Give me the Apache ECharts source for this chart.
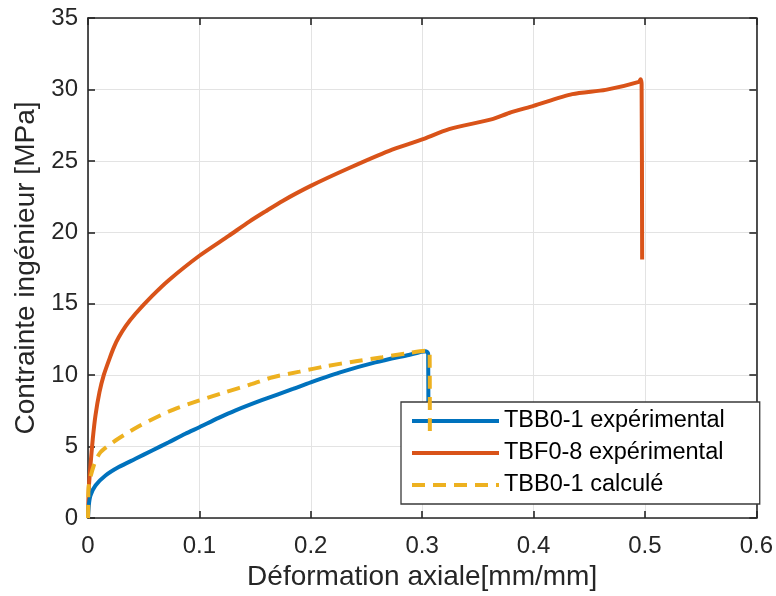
<!DOCTYPE html>
<html><head><meta charset="utf-8">
<script src="https://cdn.jsdelivr.net/npm/echarts@6/dist/echarts.min.js"></script>
<style>html,body{margin:0;padding:0;background:#fff}#c{width:776px;height:596px}</style>
</head><body><div id="c"></div>
<script>
// Data
var blueX = [0, 0.0007, 0.0022, 0.0067, 0.0157, 0.0276, 0.0426, 0.0576, 0.0725, 0.0874, 0.1, 0.1173, 0.132, 0.156, 0.184, 0.2, 0.2285, 0.258, 0.288, 0.3033, 0.3054, 0.3056];
var blueY = [0, 0.9, 1.58, 2.28, 2.98, 3.57, 4.15, 4.73, 5.31, 5.9, 6.36, 7.01, 7.52, 8.25, 9.04, 9.5, 10.25, 10.9, 11.42, 11.68, 11.5, 6.0];
var orangeX = [0, 0.0007, 0.0022, 0.0043, 0.0067, 0.0103, 0.0142, 0.0195, 0.0235, 0.0276, 0.034, 0.0426, 0.0576, 0.0725, 0.1, 0.1263, 0.1448, 0.159, 0.1747, 0.2, 0.2345, 0.2704, 0.2994, 0.3242, 0.363, 0.378, 0.4, 0.4348, 0.4647, 0.4946, 0.4961, 0.497, 0.4975];
var orangeY = [0, 2.05, 3.68, 5.55, 7.18, 8.81, 10.02, 11.2, 12.0, 12.65, 13.45, 14.3, 15.55, 16.65, 18.36, 19.75, 20.75, 21.45, 22.2, 23.25, 24.5, 25.7, 26.48, 27.22, 27.92, 28.35, 28.85, 29.67, 29.97, 30.53, 30.72, 30.4, 18.1];
var yellowX = [0, 0.0002, 0.0007, 0.0052, 0.0112, 0.0247, 0.0456, 0.0725, 0.0994, 0.1233, 0.1473, 0.1658, 0.19, 0.2136, 0.2405, 0.2644, 0.2883, 0.3048, 0.3067, 0.3069];
var yellowY = [0, 1.0, 2.28, 3.68, 4.61, 5.43, 6.43, 7.46, 8.22, 8.81, 9.39, 9.86, 10.25, 10.63, 10.98, 11.26, 11.56, 11.72, 11.6, 6.0];
var seriesNames = ['TBB0-1 expérimental', 'TBF0-8 expérimental', 'TBB0-1 calculé'];
var xTicks = [0, 0.1, 0.2, 0.3, 0.4, 0.5, 0.6];
var yTicks = [0, 5, 10, 15, 20, 25, 30, 35];

function pairs(xs, ys){ return xs.map(function(x,i){ return [x, ys[i]]; }); }
var FONT = '"Liberation Sans", Arial, sans-serif';
var AX = '#262626';
var chart = echarts.init(document.getElementById('c'));
var baseX = {
  type: 'value', min: 0, max: 0.6, interval: 0.1,
  axisLine: {show: true, onZero: false, lineStyle: {color: AX, width: 1.6}},
  axisTick: {show: true, inside: true, length: 7, lineStyle: {color: AX, width: 1.6}},
  splitLine: {show: false}
};
var baseY = {
  type: 'value', min: 0, max: 35, interval: 5,
  axisLine: {show: true, onZero: false, lineStyle: {color: AX, width: 1.6}},
  axisTick: {show: true, inside: true, length: 7, lineStyle: {color: AX, width: 1.6}},
  splitLine: {show: false}
};
chart.setOption({
  animation: false,
  backgroundColor: '#fff',
  textStyle: {fontFamily: FONT},
  grid: {left: 88, right: 19, top: 18, bottom: 77},
  legend: {
    data: seriesNames, orient: 'vertical', left: 401, top: 402,
    padding: [7, 35, 7, 9], itemWidth: 87, itemHeight: 20, itemGap: 8,
    backgroundColor: '#fff', borderColor: '#3a3a3a', borderWidth: 1.3, borderRadius: 0,
    itemStyle: {opacity: 0},
    lineStyle: {width: 4},
    textStyle: {fontFamily: FONT, fontSize: 23.5, lineHeight: 23, color: '#000'}
  },
  xAxis: [
    Object.assign({}, baseX, {
      position: 'bottom',
      name: 'Déformation axiale[mm/mm]', nameLocation: 'middle', nameGap: 38,
      nameTextStyle: {fontFamily: FONT, fontSize: 28, color: '#262626'},
      axisLabel: {show: true, fontFamily: FONT, fontSize: 24, color: '#262626', margin: 16,
        formatter: function(v){ var s = Math.round(v*10)/10; return xTicks.indexOf(s) >= 0 ? String(s) : ''; }},
      splitLine: {show: true, lineStyle: {color: '#e3e3e3', width: 1}}
    }),
    Object.assign({}, baseX, {position: 'top', axisLabel: {show: false}})
  ],
  yAxis: [
    Object.assign({}, baseY, {
      position: 'left',
      name: 'Contrainte ingénieur [MPa]', nameLocation: 'middle', nameGap: 47,
      nameTextStyle: {fontFamily: FONT, fontSize: 28, color: '#262626'},
      axisLabel: {show: true, fontFamily: FONT, fontSize: 24, color: '#262626', margin: 10,
        formatter: function(v){ return yTicks.indexOf(v) >= 0 ? String(v) : ''; }},
      splitLine: {show: true, lineStyle: {color: '#e3e3e3', width: 1}}
    }),
    Object.assign({}, baseY, {position: 'right', axisLabel: {show: false}})
  ],
  series: [
    {name: seriesNames[0], type: 'line', data: pairs(blueX, blueY), symbol: 'none', smooth: 0.25,
      lineStyle: {color: '#0072BD', width: 4}, itemStyle: {color: '#0072BD'}, z: 3},
    {name: seriesNames[1], type: 'line', data: pairs(orangeX, orangeY), symbol: 'none', smooth: 0.25,
      lineStyle: {color: '#D95319', width: 4}, itemStyle: {color: '#D95319'}, z: 2},
    {name: seriesNames[2], type: 'line', data: pairs(yellowX, yellowY), symbol: 'none', smooth: 0.25,
      lineStyle: {color: '#EDB120', width: 4, type: [13, 8]}, itemStyle: {color: '#EDB120'}, z: 4}
  ]
});
</script>
</body></html>
